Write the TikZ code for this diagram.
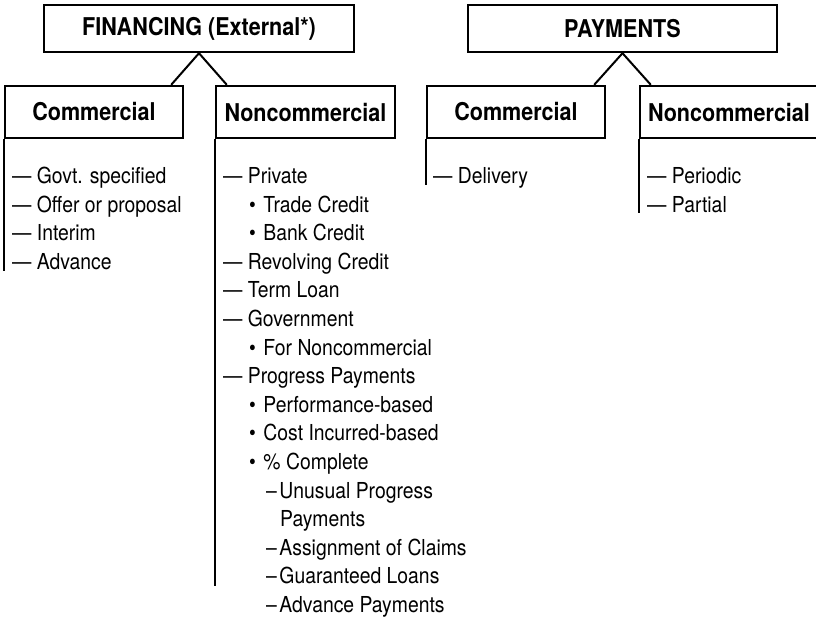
\documentclass[tikz,border=0pt]{standalone}
\usepackage{fontspec}
\setmainfont[FakeStretch=0.88]{TeX Gyre Heros}
\usetikzlibrary{calc}
\newcommand{\bul}{•\hspace{7.5pt}}
\newcommand{\sdash}{–\hspace{2.5pt}}
\begin{document}
\begin{tikzpicture}[x=1pt,y=-1pt]
\useasboundingbox (0,0) rectangle (816,619);
\clip (0,0) rectangle (816,619);
\tikzset{
  topbox/.style={draw, line width=2.4pt, inner sep=0pt, minimum height=47pt,
    font=\fontsize{24.5}{28}\selectfont\bfseries},
  subbox/.style={draw, line width=2.4pt, inner sep=0pt, minimum width=178pt, minimum height=52pt,
    font=\fontsize{24.5}{28}\selectfont\bfseries},
  link/.style={line width=2pt},
  rail/.style={line width=2.4pt},
  item/.style={anchor=base west, inner sep=0pt, font=\fontsize{22}{24}\selectfont}
}
% top boxes
\node[topbox, minimum width=310pt] (fin) at (199,28.5) {FINANCING (External*)};
\node[topbox, minimum width=309pt] (pay) at (622.5,28.5) {PAYMENTS};
% sub boxes
\node[subbox] (fc) at (94,112) {Commercial};
\node[subbox, minimum width=179pt] (fn) at (305.5,112) {Noncommercial};
\node[subbox] (pc) at (516,112) {Commercial};
\node[subbox] (pn) at (729,112) {Noncommercial};
% connectors
\draw[link] (fin.south) -- ($(fc.north east)+(-13,0)$);
\draw[link] (fin.south) -- ($(fn.north west)+(12,0)$);
\draw[link] (pay.south) -- ($(pc.north east)+(-12,0)$);
\draw[link] (pay.south) -- ($(pn.north west)+(12,0)$);
% rails
\draw[rail] (fc.south west) -- ++(0,132);
\draw[rail] (fn.south west) -- ++(0,447);
\draw[rail] (pc.south west) -- ++(0,46);
\draw[rail] (pn.south west) -- ++(0,74);
% financing commercial list
\node[item] (fc1) at (12,183.5) {— Govt. specified};
\node[item] (fc2) at (12,212.1) {— Offer or proposal};
\node[item] (fc3) at (12,240.7) {— Interim};
\node[item] (fc4) at (12,269.3) {— Advance};
% financing noncommercial list
\node[item] (fn1) at (223,183.5) {— Private};
\node[item] (fn2) at (249,212.1) {\bul Trade Credit};
\node[item] (fn3) at (249,240.7) {\bul Bank Credit};
\node[item] (fn4) at (223,269.3) {— Revolving Credit};
\node[item] (fn5) at (223,297.9) {— Term Loan};
\node[item] (fn6) at (223,326.5) {— Government};
\node[item] (fn7) at (249,355.1) {\bul For Noncommercial};
\node[item] (fn8) at (223,383.7) {— Progress Payments};
\node[item] (fn9) at (249,412.3) {\bul Performance-based};
\node[item] (fn10) at (249,440.9) {\bul Cost Incurred-based};
\node[item] (fn11) at (249,469.5) {\bul \% Complete};
\node[item] (fn12) at (266,498.1) {\sdash Unusual Progress};
\node[item] (fn13) at (280,526.7) {Payments};
\node[item] (fn14) at (266,555.3) {\sdash Assignment of Claims};
\node[item] (fn15) at (266,583.9) {\sdash Guaranteed Loans};
\node[item] (fn16) at (266,612.5) {\sdash Advance Payments};
% payments lists
\node[item] (pc1) at (433,183.5) {— Delivery};
\node[item] (pn1) at (647,183.5) {— Periodic};
\node[item] (pn2) at (647,212.1) {— Partial};
\end{tikzpicture}
\end{document}
